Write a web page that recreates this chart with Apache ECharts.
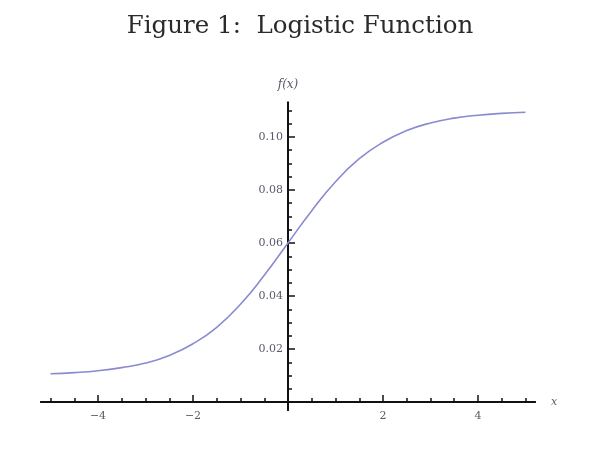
<!DOCTYPE html>
<html>
<head>
<meta charset="utf-8">
<script src="https://cdn.jsdelivr.net/npm/echarts@6/dist/echarts.min.js"></script>
<style>html,body{margin:0;padding:0;background:#fff;}#c{width:600px;height:462px;}</style>
</head>
<body>
<div id="c"></div>
<script>
// Data
var xValues = [-5, -4.5, -4, -3.5, -3, -2.5, -2, -1.5, -1, -0.5, 0, 0.5, 1, 1.5, 2, 2.5, 3, 3.5, 4, 4.5, 5];
var yValues = [0.0107, 0.0111, 0.0118, 0.0130, 0.0147, 0.0176, 0.0220, 0.0282, 0.0369, 0.0478, 0.0600,
               0.0722, 0.0831, 0.0918, 0.0980, 0.1024, 0.1053, 0.1071, 0.1082, 0.1089, 0.1093];
var xMajorTicks = [-4, -2, 2, 4];
var xTickLabels = ['\u22124', '\u22122', '2', '4'];
var xMinorTicks = [-5, -4.5, -3.5, -3, -2.5, -1.5, -1, -0.5, 0.5, 1, 1.5, 2.5, 3, 3.5, 4.5, 5];
var yMajorTicks = [0.02, 0.04, 0.06, 0.08, 0.10];
var yTickLabels = ['0.02', '0.04', '0.06', '0.08', '0.10'];
var yMinorTicks = [0.005, 0.01, 0.015, 0.025, 0.03, 0.035, 0.045, 0.05, 0.055, 0.065, 0.07, 0.075, 0.085, 0.09, 0.095, 0.105, 0.11];

var X_MIN = -5.2, X_MAX = 5.2, Y_MIN = -0.003, Y_MAX = 0.113;
var G_LEFT = 41, G_WIDTH = 494, G_TOP = 102.5, G_HEIGHT = 307.5;
// place axes through the origin (inner offsets)
var yAxisOffset = -G_WIDTH * (0 - X_MIN) / (X_MAX - X_MIN);
var xAxisOffset = -G_HEIGHT * (0 - Y_MIN) / (Y_MAX - Y_MIN);

var chart = echarts.init(document.getElementById('c'));
var serif = 'DejaVu Serif';
var lineData = xValues.map(function (x, i) { return [x, yValues[i]]; });

function xAxisDef(ticks, len, showLabel, showName) {
  return {
    type: 'value', min: X_MIN, max: X_MAX, position: 'bottom', offset: xAxisOffset,
    axisLine: { show: true, onZero: false, lineStyle: { color: '#111', width: 2 } },
    axisTick: { show: true, inside: true, length: len, customValues: ticks, lineStyle: { color: '#111', width: 1.5 } },
    axisLabel: { show: showLabel, customValues: xMajorTicks, margin: 9, fontFamily: serif, fontSize: 11, color: '#5a5a6a',
      formatter: function (v) { var i = xMajorTicks.indexOf(v); return i >= 0 ? xTickLabels[i] : ''; } },
    splitLine: { show: false },
    name: showName ? 'x' : '', nameLocation: 'end', nameGap: 16,
    nameTextStyle: { fontFamily: serif, fontStyle: 'italic', fontSize: 11, color: '#5a5a6a', padding: [0, 0, -4, 0] }
  };
}
function yAxisDef(ticks, len, showLabel, showName) {
  return {
    type: 'value', min: Y_MIN, max: Y_MAX, position: 'left', offset: yAxisOffset,
    axisLine: { show: true, onZero: false, lineStyle: { color: '#111', width: 2 } },
    axisTick: { show: true, inside: true, length: len, customValues: ticks, lineStyle: { color: '#111', width: 1.5 } },
    axisLabel: { show: showLabel, customValues: yMajorTicks, margin: 5, fontFamily: serif, fontSize: 11, color: '#5a5a6a',
      formatter: function (v) { for (var i = 0; i < yMajorTicks.length; i++) { if (Math.abs(v - yMajorTicks[i]) < 1e-9) return yTickLabels[i]; } return ''; } },
    splitLine: { show: false },
    name: showName ? 'f(x)' : '', nameLocation: 'end', nameGap: 12,
    nameTextStyle: { fontFamily: serif, fontStyle: 'italic', fontSize: 12, color: '#5a5a6a', align: 'center' }
  };
}

chart.setOption({
  animation: false,
  backgroundColor: '#fff',
  title: {
    text: 'Figure 1:  Logistic Function', left: 'center', top: 9,
    textStyle: { fontFamily: serif, fontWeight: 'normal', fontSize: 24.5, color: '#2a2a2a' }
  },
  grid: { left: G_LEFT, width: G_WIDTH, top: G_TOP, height: G_HEIGHT },
  xAxis: [xAxisDef(xMajorTicks, 7, true, true), xAxisDef(xMinorTicks, 4, false, false)],
  yAxis: [yAxisDef(yMajorTicks, 7, true, true), yAxisDef(yMinorTicks, 4, false, false)],
  series: [{
    type: 'line', xAxisIndex: 0, yAxisIndex: 0, data: lineData, smooth: true, showSymbol: false,
    lineStyle: { color: '#8a8ad0', width: 1.6 }
  }]
});
</script>
</body>
</html>
